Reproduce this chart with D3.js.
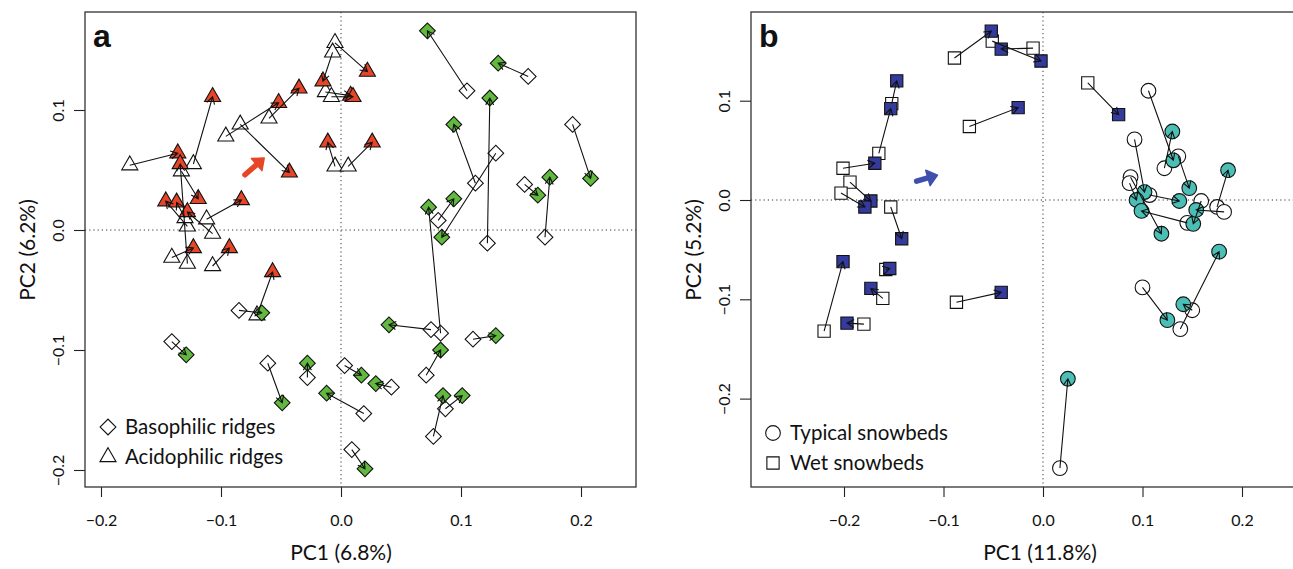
<!DOCTYPE html>
<html>
<head>
<meta charset="utf-8">
<script src="https://cdn.jsdelivr.net/npm/d3@7"></script>
<style>
  body { margin: 0; background: #fff; }
  text { font-family: Lato, "Open Sans", sans-serif; fill: #111; }
</style>
</head>
<body>
<svg id="chart" width="1293" height="569"></svg>
<script>
// site scores before -> after, [x0, y0, x1, y1] in PC units

// panel a
var acidophilic = [
  [-0.176, 0.054, -0.136, 0.064], [-0.123, 0.055, -0.107, 0.111],
  [-0.133, 0.049, -0.119, 0.026], [-0.128, -0.028, -0.134, 0.055],
  [-0.096, 0.078, -0.052, 0.106], [-0.084, 0.088, -0.043, 0.048],
  [-0.060, 0.093, -0.035, 0.118], [-0.005, 0.156, 0.022, 0.132],
  [-0.007, 0.148, -0.015, 0.124], [-0.013, 0.115, 0.008, 0.112],
  [-0.008, 0.111, 0.010, 0.111], [-0.005, 0.053, -0.011, 0.073],
  [0.006, 0.053, 0.026, 0.073], [-0.112, 0.009, -0.083, 0.025],
  [-0.107, -0.003, -0.128, 0.015], [-0.128, 0.003, -0.146, 0.024],
  [-0.130, 0.010, -0.137, 0.023], [-0.141, -0.023, -0.123, -0.015],
  [-0.107, -0.030, -0.093, -0.015], [-0.070, -0.071, -0.057, -0.035]
];
var basophilic = [
  [0.105, 0.116, 0.072, 0.166], [0.156, 0.128, 0.131, 0.139],
  [0.122, -0.011, 0.124, 0.110], [0.112, 0.039, 0.094, 0.088],
  [0.170, -0.006, 0.174, 0.044], [0.193, 0.088, 0.208, 0.043],
  [0.153, 0.038, 0.164, 0.029], [0.129, 0.064, 0.084, -0.006],
  [0.081, 0.008, 0.094, 0.026], [0.083, -0.086, 0.073, 0.019],
  [0.075, -0.083, 0.040, -0.079], [0.110, -0.091, 0.129, -0.088],
  [0.071, -0.121, 0.083, -0.100], [0.003, -0.113, 0.017, -0.121],
  [0.042, -0.131, 0.029, -0.128], [0.019, -0.153, -0.012, -0.136],
  [0.087, -0.149, 0.101, -0.138], [0.077, -0.172, 0.085, -0.138],
  [0.009, -0.183, 0.020, -0.199], [-0.085, -0.067, -0.066, -0.069],
  [-0.141, -0.093, -0.129, -0.104], [-0.061, -0.111, -0.049, -0.144],
  [-0.028, -0.123, -0.028, -0.111]
];
var shiftA = [-0.080, 0.046, -0.064, 0.060];

// panel b
var typical = [
  [0.106, 0.110, 0.131, 0.040], [0.092, 0.061, 0.102, 0.008],
  [0.136, 0.044, 0.147, 0.012], [0.122, 0.032, 0.130, 0.069],
  [0.088, 0.023, 0.119, -0.034], [0.087, 0.017, 0.094, 0.000],
  [0.107, 0.005, 0.137, -0.001], [0.159, -0.001, 0.151, -0.024],
  [0.175, -0.007, 0.186, 0.030], [0.182, -0.012, 0.154, -0.010],
  [0.145, -0.023, 0.099, -0.011], [0.100, -0.088, 0.125, -0.121],
  [0.138, -0.130, 0.177, -0.052], [0.150, -0.111, 0.141, -0.105],
  [0.017, -0.270, 0.025, -0.180]
];
var wet = [
  [-0.089, 0.143, -0.052, 0.170], [-0.051, 0.160, -0.002, 0.140],
  [-0.010, 0.153, -0.042, 0.152], [-0.152, 0.097, -0.147, 0.120],
  [-0.074, 0.074, -0.025, 0.093], [-0.165, 0.047, -0.153, 0.092],
  [-0.201, 0.032, -0.169, 0.037], [-0.194, 0.018, -0.173, -0.001],
  [-0.203, 0.007, -0.179, -0.007], [-0.153, -0.007, -0.142, -0.039],
  [0.045, 0.118, 0.076, 0.086], [-0.158, -0.070, -0.154, -0.069],
  [-0.161, -0.099, -0.173, -0.089], [-0.180, -0.125, -0.197, -0.124],
  [-0.220, -0.132, -0.201, -0.062], [-0.087, -0.103, -0.042, -0.093]
];
var shiftB = [-0.127, 0.019, -0.106, 0.025];

var ticksA_x = [-0.2, -0.1, 0.0, 0.1, 0.2];
var ticksA_y = [-0.2, -0.1, 0.0, 0.1];
var ticksB_x = [-0.2, -0.1, 0.0, 0.1, 0.2];
var ticksB_y = [-0.2, -0.1, 0.0, 0.1];

var svg = d3.select("#chart");

var fmt = d3.format(".1f");

function arrowPath(x0, y0, x1, y1, len) {
  var a = Math.atan2(y1 - y0, x1 - x0), h = Math.PI / 6;
  return "M" + x0 + "," + y0 + "L" + x1 + "," + y1 +
    "M" + (x1 - len * Math.cos(a - h)) + "," + (y1 - len * Math.sin(a - h)) +
    "L" + x1 + "," + y1 +
    "L" + (x1 - len * Math.cos(a + h)) + "," + (y1 - len * Math.sin(a + h));
}

function symbolPath(kind) {
  if (kind === "triangle") return d3.symbol().type(d3.symbolTriangle).size(112)();
  if (kind === "diamond") return d3.symbol().type(d3.symbolSquare).size(124)();
  if (kind === "square") return d3.symbol().type(d3.symbolSquare).size(150)();
  return d3.symbol().type(d3.symbolCircle).size(170)();
}

function drawPanel(p) {
  var g = svg.append("g");
  var x = d3.scaleLinear().domain(p.xDomain).range([p.left, p.right]);
  var y = d3.scaleLinear().domain(p.yDomain).range([p.bottom, p.top]);

  // zero lines
  g.append("line").attr("x1", x(0)).attr("x2", x(0)).attr("y1", p.top).attr("y2", p.bottom)
    .attr("stroke", "#333").attr("stroke-width", 1).attr("stroke-dasharray", "1.2,3");
  g.append("line").attr("y1", y(0)).attr("y2", y(0)).attr("x1", p.left).attr("x2", p.right)
    .attr("stroke", "#333").attr("stroke-width", 1).attr("stroke-dasharray", "1.2,3");

  // axes
  var ax = g.append("g").attr("transform", "translate(0," + p.bottom + ")")
    .call(d3.axisBottom(x).tickValues(p.xTicks).tickFormat(fmt).tickSize(10).tickPadding(18));
  var ay = g.append("g").attr("transform", "translate(" + p.left + ",0)")
    .call(d3.axisLeft(y).tickValues(p.yTicks).tickFormat(fmt).tickSize(11));
  [ax, ay].forEach(function (a) {
    a.select(".domain").remove();
    a.selectAll("line").attr("stroke", "#222").attr("stroke-width", 1.1);
    a.selectAll("text").style("font-size", "16px").attr("fill", "#111");
  });
  ay.selectAll("text")
    .attr("x", null).attr("dy", "0.35em")
    .attr("text-anchor", "middle")
    .attr("transform", "translate(-27,0) rotate(-90)");

  // titles
  g.append("text").attr("x", p.xTitleX).attr("y", 560)
    .attr("text-anchor", "middle").style("font-size", "21px").text(p.xTitle);
  g.append("text").attr("transform", "translate(" + p.yTitleX + "," + p.yTitleY + ") rotate(-90)")
    .attr("dy", "0.35em").attr("text-anchor", "middle").style("font-size", "21px").text(p.yTitle);

  // pairs: open symbol = before, filled = after
  p.groups.forEach(function (grp) {
    var sym = symbolPath(grp.shape);
    var rot = grp.shape === "diamond" ? " rotate(45)" : "";
    g.append("g").selectAll("path").data(grp.data).join("path")
      .attr("d", sym)
      .attr("transform", function (d) { return "translate(" + x(d[0]) + "," + y(d[1]) + ")" + rot; })
      .attr("fill", "#fff").attr("stroke", "#111").attr("stroke-width", 1.1);
  });
  p.groups.forEach(function (grp) {
    var sym = symbolPath(grp.shape);
    var rot = grp.shape === "diamond" ? " rotate(45)" : "";
    g.append("g").selectAll("path").data(grp.data).join("path")
      .attr("d", sym)
      .attr("transform", function (d) { return "translate(" + x(d[2]) + "," + y(d[3]) + ")" + rot; })
      .attr("fill", grp.color).attr("stroke", "#111").attr("stroke-width", 1.1);
  });
  p.groups.forEach(function (grp) {
    g.append("g").selectAll("path").data(grp.data).join("path")
      .attr("d", function (d) { return arrowPath(x(d[0]), y(d[1]), x(d[2]), y(d[3]), 8); })
      .attr("fill", "none").attr("stroke", "#111").attr("stroke-width", 1.1);
  });

  // overall shift arrow
  var s = p.shift, sx0 = x(s[0]), sy0 = y(s[1]), sx1 = x(s[2]), sy1 = y(s[3]);
  var ang = Math.atan2(sy1 - sy0, sx1 - sx0);
  var hl = 10, hw = 8;
  var bx = sx1 - hl * Math.cos(ang), by = sy1 - hl * Math.sin(ang);
  g.append("line").attr("x1", sx0).attr("y1", sy0).attr("x2", bx).attr("y2", by)
    .attr("stroke", p.shiftColor).attr("stroke-width", 5.5).attr("stroke-linecap", "round");
  g.append("path")
    .attr("d", "M" + sx1 + "," + sy1 +
      "L" + (bx + hw * Math.sin(ang)) + "," + (by - hw * Math.cos(ang)) +
      "L" + (bx - hw * Math.sin(ang)) + "," + (by + hw * Math.cos(ang)) + "Z")
    .attr("fill", p.shiftColor).attr("stroke", p.shiftColor).attr("stroke-width", 1.5)
    .attr("stroke-linejoin", "round");

  // legend
  p.legend.forEach(function (l, i) {
    var ly = p.legendY + i * 30;
    g.append("path").attr("d", symbolPath(l.shape))
      .attr("transform", "translate(" + p.legendX + "," + ly + ")" + (l.shape === "diamond" ? " rotate(45)" : ""))
      .attr("fill", "#fff").attr("stroke", "#111").attr("stroke-width", 1.1);
    g.append("text").attr("x", p.legendX + 17).attr("y", ly).attr("dy", "0.36em")
      .style("font-size", "20.5px").text(l.label);
  });

  // box
  g.append("rect").attr("x", p.left).attr("y", p.top)
    .attr("width", p.right - p.left).attr("height", p.bottom - p.top)
    .attr("fill", "none").attr("stroke", "#333").attr("stroke-width", 1.3);

  g.append("text").attr("x", p.left + 8).attr("y", p.top + 35)
    .style("font-family", "'Liberation Sans', Arial, sans-serif")
    .style("font-weight", "bold").style("font-size", "32px").text(p.letter);
}

drawPanel({
  letter: "a",
  left: 85, right: 636, top: 12, bottom: 487,
  xDomain: [-0.21333, 0.24583], yDomain: [-0.21417, 0.18167],
  xTicks: ticksA_x, yTicks: ticksA_y,
  xTitle: "PC1 (6.8%)", yTitle: "PC2 (6.2%)",
  xTitleX: 341, yTitleX: 28, yTitleY: 250,
  groups: [
    { data: basophilic, shape: "diamond", color: "#62b93f" },
    { data: acidophilic, shape: "triangle", color: "#e64527" }
  ],
  shift: shiftA, shiftColor: "#e64527",
  legend: [{ shape: "diamond", label: "Basophilic ridges" },
           { shape: "triangle", label: "Acidophilic ridges" }],
  legendX: 108, legendY: 427
});

drawPanel({
  letter: "b",
  left: 751, right: 1300, top: 12, bottom: 487,
  xDomain: [-0.29347, 0.25829], yDomain: [-0.28902, 0.18933],
  xTicks: ticksB_x, yTicks: ticksB_y,
  xTitle: "PC1 (11.8%)", yTitle: "PC2 (5.2%)",
  xTitleX: 1040, yTitleX: 694, yTitleY: 250,
  groups: [
    { data: typical, shape: "circle", color: "#4bbfb6" },
    { data: wet, shape: "square", color: "#343b9c" }
  ],
  shift: shiftB, shiftColor: "#3f4fb0",
  legend: [{ shape: "circle", label: "Typical snowbeds" },
           { shape: "square", label: "Wet snowbeds" }],
  legendX: 773, legendY: 433
});
</script>
</body>
</html>
